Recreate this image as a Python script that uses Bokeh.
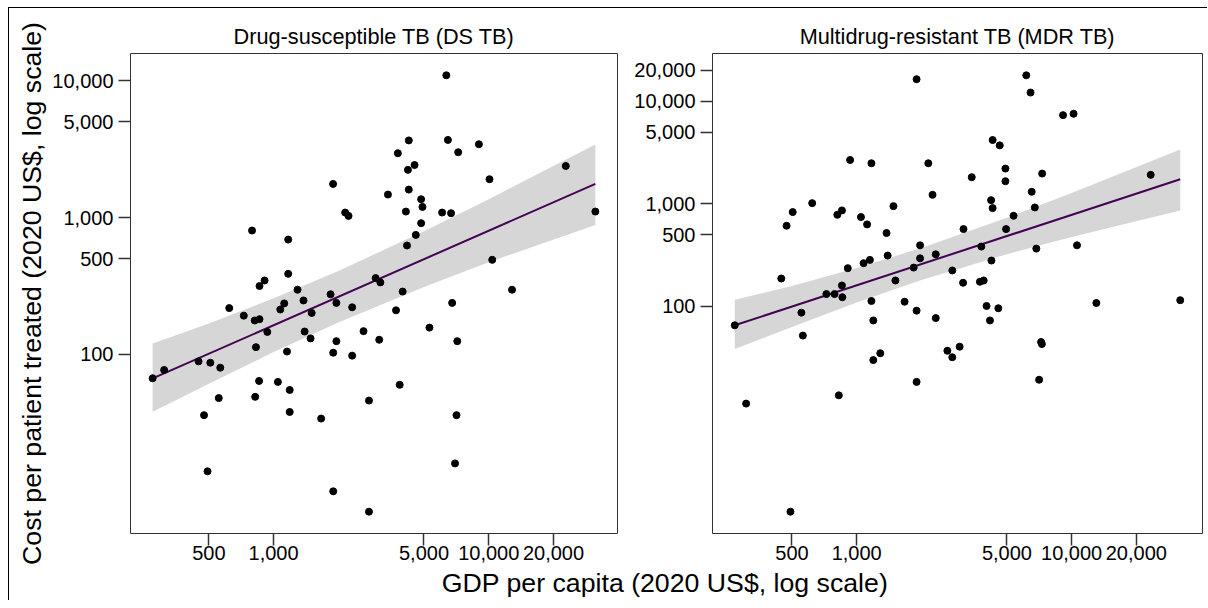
import numpy as np
from bokeh.plotting import figure
from bokeh.layouts import row, column
from bokeh.models import Range1d, FixedTicker, NumeralTickFormatter
from bokeh.core.properties import value
from bokeh.embed import file_html
from bokeh.resources import INLINE

FONT = "Liberation Sans"

panel_titles = ["Drug-susceptible TB (DS TB)", "Multidrug-resistant TB (MDR TB)"]
x_label = "GDP per capita (2020 US$, log scale)"
y_label = "Cost per patient treated (2020 US$, log scale)"
x_ticks = [500, 1000, 5000, 10000, 20000]
ds_y_ticks = [100, 500, 1000, 5000, 10000]
mdr_y_ticks = [100, 500, 1000, 5000, 10000, 20000]

ds_gdp = [6350, 4250, 6460, 9000, 3780, 7210, 4520, 4210, 22800, 10080,
          1890, 3400, 4250, 4850, 4920, 4120, 6070, 6680, 2150, 2230,
          31300, 4850, 794, 4580, 1169, 4170, 10380, 1169, 860, 908,
          1292, 2980, 3135, 1840, 3980, 12830, 1377, 622, 727, 817,
          860, 1120, 1074, 1503, 1958, 2318, 3707, 6760, 935, 1394,
          1485, 1958, 2618, 3097, 5300, 7140, 828, 1154, 1893, 2318,
          448, 508, 565, 310, 274, 856, 1047, 1188, 821, 556,
          3855, 2775, 475, 1188, 1663, 7080, 6970, 493, 1893, 2775]
ds_cost = [10940, 3660, 3690, 3430, 2950, 3000, 2420, 2230, 2380, 1905,
           1760, 1472, 1600, 1361, 1196, 1106, 1088, 1076, 1088, 1028,
           1106, 910, 804, 747, 690, 625, 491, 388, 316, 347,
           297, 361, 336, 275, 288, 297, 248, 218, 192, 177,
           181, 236, 213, 201, 238, 221, 210, 238, 146, 147,
           131, 125, 148, 128, 157, 125, 113, 105, 103, 98,
           89, 87, 80, 77, 67, 64, 63, 55, 49, 48,
           60, 46, 36, 38, 34, 36, 16, 14, 10, 7.1]

mdr_gdp = [1900, 6150, 6440, 9120, 10210, 4290, 4630, 932, 1171, 2154,
           4920, 3430, 7290, 23330, 4920, 2254, 6520, 621, 4220, 4290,
           6740, 504, 854, 813, 1483, 472, 1047, 1118, 5370, 1377,
           3140, 4955, 1972, 3800, 6850, 10590, 1394, 1972, 2333, 4237,
           1077, 1152, 909, 1842, 2785, 446, 1514, 3126, 3743, 3900,
           854, 723, 789, 858, 1171, 1671, 32000, 13030, 271, 553,
           562, 1195, 1900, 2333, 4020, 4560, 4170, 1195, 1288, 2642,
           2785, 3013, 7210, 7270, 7060, 1900, 826, 306, 492]
mdr_cost = [16370, 17860, 12130, 7310, 7530, 4180, 3710, 2673, 2483, 2483,
            2203, 1815, 1970, 1914, 1660, 1223, 1309, 1015, 1085, 908,
            921, 830, 862, 781, 949, 611, 743, 630, 764, 519,
            567, 567, 394, 383, 366, 394, 313, 294, 322, 280,
            264, 284, 236, 239, 224, 187, 179, 170, 174, 179,
            160, 132, 132, 123, 113, 111, 115, 108, 65.5, 87,
            52, 73, 91, 77, 101, 96, 73, 30, 35, 37,
            32, 40.5, 45, 43, 19.3, 18.4, 13.6, 11.3, 1.0]

# fitted line (end points) and 95% band
ds_fit_gdp = [274, 31300]
ds_fit_cost = [66.8, 1762]
ds_band_gdp = [274, 500, 1000, 2000, 5000, 10000, 31300]
ds_band_low = [38.2, 61, 104, 171, 311, 472, 884]
ds_band_high = [120, 168, 257, 407, 794, 1362, 3410]

mdr_fit_gdp = [271, 32000]
mdr_fit_cost = [65.5, 1735]
mdr_band_gdp = [271, 500, 1000, 2000, 5000, 10000, 32000]
mdr_band_low = [38.5, 63, 109, 181, 323, 476, 861]
mdr_band_high = [116, 158, 237, 371, 730, 1276, 3375]


def log_range(v):
    lv = np.log10(np.asarray(v, float))
    lo, hi = lv.min(), lv.max()
    pad = 0.05 * (hi - lo)
    return Range1d(10 ** (lo - pad), 10 ** (hi + pad))


PANEL_H = 559


def make_panel(title, gx, gy, yticks, fit_x, fit_y, band_x, band_lo, band_hi,
               width, min_left, min_right, ylab=None):
    p = figure(width=width, height=PANEL_H, x_axis_type="log", y_axis_type="log",
               x_range=log_range(gx), y_range=log_range(gy),
               output_backend="svg", toolbar_location=None, title=title,
               min_border_left=min_left, min_border_right=min_right,
               min_border_top=45, min_border_bottom=34)
    p.title.align = "center"
    p.title.text_font = FONT
    p.title.text_font_size = "21.7px"
    p.title.text_font_style = "normal"
    p.title.text_color = "black"
    p.title.standoff = 9
    p.xgrid.visible = False
    p.ygrid.visible = False
    p.outline_line_color = "#333333"
    p.outline_line_width = 1
    p.background_fill_color = "white"
    p.border_fill_color = "white"
    for ax in (p.xaxis[0], p.yaxis[0]):
        ax.axis_line_color = None
        ax.major_tick_in = 0
        ax.major_tick_out = 12
        ax.major_tick_line_color = "#333333"
        ax.major_tick_line_width = 1.5
        ax.minor_tick_line_color = None
        ax.major_label_text_font = FONT
        ax.major_label_text_font_size = "20px"
        ax.major_label_text_color = "black"
        ax.formatter = NumeralTickFormatter(format="0,0")
    p.xaxis[0].ticker = FixedTicker(ticks=x_ticks, minor_ticks=[])
    p.yaxis[0].ticker = FixedTicker(ticks=yticks, minor_ticks=[])
    p.xaxis[0].major_label_standoff = 0
    p.yaxis[0].major_label_standoff = 5
    if ylab:
        p.yaxis[0].axis_label = ylab
        p.yaxis[0].axis_label_text_font = FONT
        p.yaxis[0].axis_label_text_font_size = "26.7px"
        p.yaxis[0].axis_label_text_font_style = "normal"
        p.yaxis[0].axis_label_text_color = "black"
        p.yaxis[0].axis_label_standoff = 2

    p.varea(x=band_x, y1=band_lo, y2=band_hi, fill_color="#999999", fill_alpha=0.4)
    p.line(x=fit_x, y=fit_y, line_color="#440154", line_width=2)
    p.scatter(x=gx, y=gy, size=7, fill_color="black", line_color="black")
    return p


W1, W2 = 614, 584
p1 = make_panel(panel_titles[0], ds_gdp, ds_cost, ds_y_ticks,
                ds_fit_gdp, ds_fit_cost, ds_band_gdp, ds_band_low, ds_band_high,
                W1, 121, 6, ylab=y_label)
p2 = make_panel(panel_titles[1], mdr_gdp, mdr_cost, mdr_y_ticks,
                mdr_fit_gdp, mdr_fit_cost, mdr_band_gdp, mdr_band_low, mdr_band_high,
                W2, 89, 5)

W3 = W1 + W2
H3 = 33
p3 = figure(width=W3, height=H3, x_range=Range1d(0, W3), y_range=Range1d(0, H3),
            output_backend="svg", toolbar_location=None,
            min_border=0, min_border_left=0, min_border_right=0,
            min_border_top=0, min_border_bottom=0,
            x_axis_location=None, y_axis_location=None)
p3.xgrid.visible = False
p3.ygrid.visible = False
p3.outline_line_color = None
p3.background_fill_color = "white"
p3.border_fill_color = "white"
p3.text(x=[655.5], y=[18], text=[x_label], text_font=value(FONT),
        text_font_size="26.7px", text_align="center", text_baseline="middle",
        text_color="black")

layout = column(row(p1, p2), p3,
                styles={"border-top": "1px solid black", "border-left": "1px solid black",
                        "margin-left": "8px", "margin-top": "7px"})

open("out.html", "w").write(file_html(layout, INLINE))
